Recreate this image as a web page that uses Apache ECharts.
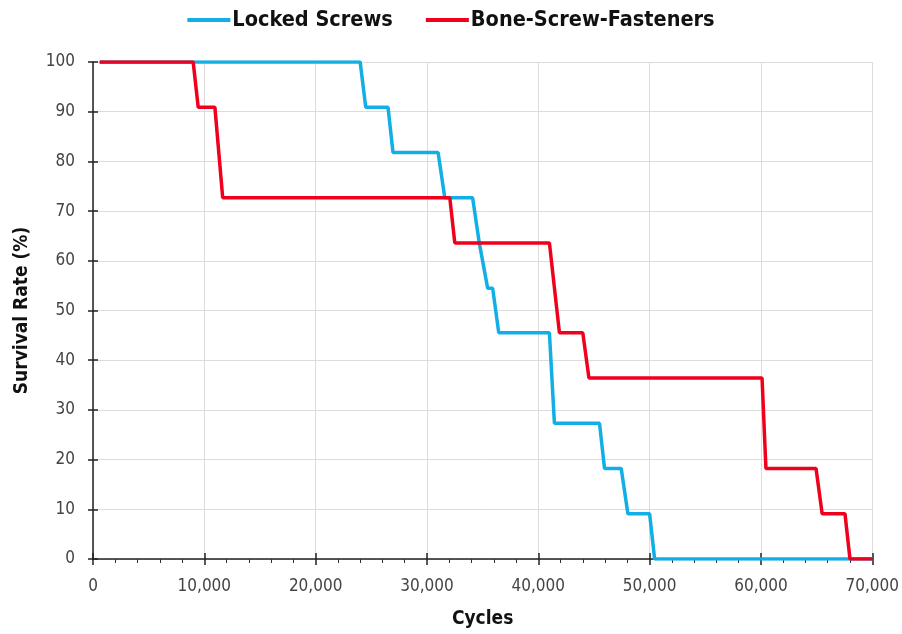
<!DOCTYPE html>
<html>
<head>
<meta charset="utf-8">
<script src="https://cdn.jsdelivr.net/npm/echarts@6/dist/echarts.min.js"></script>
<style>
html,body{margin:0;padding:0;background:#fff;}
#chart{width:902px;height:634px;}
</style>
</head>
<body>
<div id="chart"></div>
<script>
var seriesNames = ['Locked Screws', 'Bone-Screw-Fasteners'];
var lockedX = [600, 24000, 24500, 26500, 26950, 31000, 31600, 34100, 34700, 35450, 35900, 36450, 41000, 41450, 45500, 45950, 47450, 48050, 50000, 50450, 70000];
var lockedY = [100, 100, 90.9, 90.9, 81.8, 81.8, 72.7, 72.7, 63.6, 54.5, 54.5, 45.5, 45.5, 27.3, 27.3, 18.2, 18.2, 9.1, 9.1, 0, 0];
var boneX = [600, 9000, 9450, 10950, 11650, 32050, 32500, 41000, 41900, 44000, 44550, 60100, 60450, 64950, 65500, 67550, 68000, 70000];
var boneY = [100, 100, 90.9, 90.9, 72.7, 72.7, 63.6, 63.6, 45.5, 45.5, 36.4, 36.4, 18.2, 18.2, 9.1, 9.1, 0, 0];
var xTicks = [0, 10000, 20000, 30000, 40000, 50000, 60000, 70000];
var yTicks = [0, 10, 20, 30, 40, 50, 60, 70, 80, 90, 100];

function pairs(xs, ys) { return xs.map(function (x, i) { return [x, ys[i]]; }); }
function commas(v) { return String(v).replace(/\B(?=(\d{3})+(?!\d))/g, ','); }

var FONT = '"DejaVu Sans Condensed", "DejaVu Sans", sans-serif';
var chart = echarts.init(document.getElementById('chart'), null, {renderer: 'canvas'});
var xMin = xTicks[0], xMax = xTicks[xTicks.length - 1], xInt = xTicks[1] - xTicks[0];
var yMin = yTicks[0], yMax = yTicks[yTicks.length - 1], yInt = yTicks[1] - yTicks[0];

chart.setOption({
  animation: false,
  backgroundColor: '#fff',
  legend: {
    top: 4, left: 'center',
    icon: 'rect', itemWidth: 43, itemHeight: 4, itemGap: 33,
    textStyle: {fontFamily: FONT, fontWeight: 'bold', fontSize: 21.5, color: '#111', padding: [0, 0, 0, -3]},
    data: seriesNames
  },
  grid: {left: 93, right: 29, top: 62, bottom: 75, containLabel: false},
  xAxis: [{
    type: 'value', min: xMin, max: xMax, interval: xInt, position: 'bottom',
    name: 'Cycles', nameLocation: 'middle', nameGap: 51,
    nameTextStyle: {fontFamily: FONT, fontWeight: 'bold', fontSize: 19, color: '#111'},
    axisLine: {show: true, lineStyle: {color: '#222', width: 1.5}},
    axisTick: {show: true, length: 6, lineStyle: {color: '#222', width: 1.5}},
    minorTick: {show: true, splitNumber: 5, length: 4, lineStyle: {color: '#333', width: 1}},
    axisLabel: {margin: 19, fontFamily: FONT, fontSize: 17, color: '#444', formatter: function (v) { return commas(v); }},
    splitLine: {show: true, lineStyle: {color: '#dcdcdc', width: 1}}
  }, {
    type: 'value', min: xMin, max: xMax, interval: xInt, position: 'bottom', offset: 0,
    axisLine: {show: false},
    axisTick: {show: true, inside: true, length: 6, lineStyle: {color: '#222', width: 1.5}},
    axisLabel: {show: false}, splitLine: {show: false}
  }],
  yAxis: [{
    type: 'value', min: yMin, max: yMax, interval: yInt, position: 'left',
    name: 'Survival Rate (%)', nameLocation: 'middle', nameGap: 61, nameRotate: 90,
    nameTextStyle: {fontFamily: FONT, fontWeight: 'bold', fontSize: 19, color: '#111'},
    axisLine: {show: true, lineStyle: {color: '#222', width: 1.5}},
    axisTick: {show: true, length: 5, lineStyle: {color: '#222', width: 1.5}},
    axisLabel: {margin: 18, fontFamily: FONT, fontSize: 17, color: '#444'},
    splitLine: {show: true, lineStyle: {color: '#dcdcdc', width: 1}}
  }, {
    type: 'value', min: yMin, max: yMax, interval: yInt, position: 'left', offset: 0,
    axisLine: {show: false},
    axisTick: {show: true, inside: true, length: 5, lineStyle: {color: '#222', width: 1.5}},
    axisLabel: {show: false}, splitLine: {show: false}
  }],
  series: [{
    name: seriesNames[0], type: 'line', xAxisIndex: 0, yAxisIndex: 0,
    data: pairs(lockedX, lockedY), showSymbol: false, symbol: 'none',
    itemStyle: {color: '#12aee6'},
    lineStyle: {color: '#12aee6', width: 3.5}
  }, {
    name: seriesNames[1], type: 'line', xAxisIndex: 0, yAxisIndex: 0,
    data: pairs(boneX, boneY), showSymbol: false, symbol: 'none',
    itemStyle: {color: '#f0001c'},
    lineStyle: {color: '#f0001c', width: 3.5}
  }]
});
</script>
</body>
</html>
